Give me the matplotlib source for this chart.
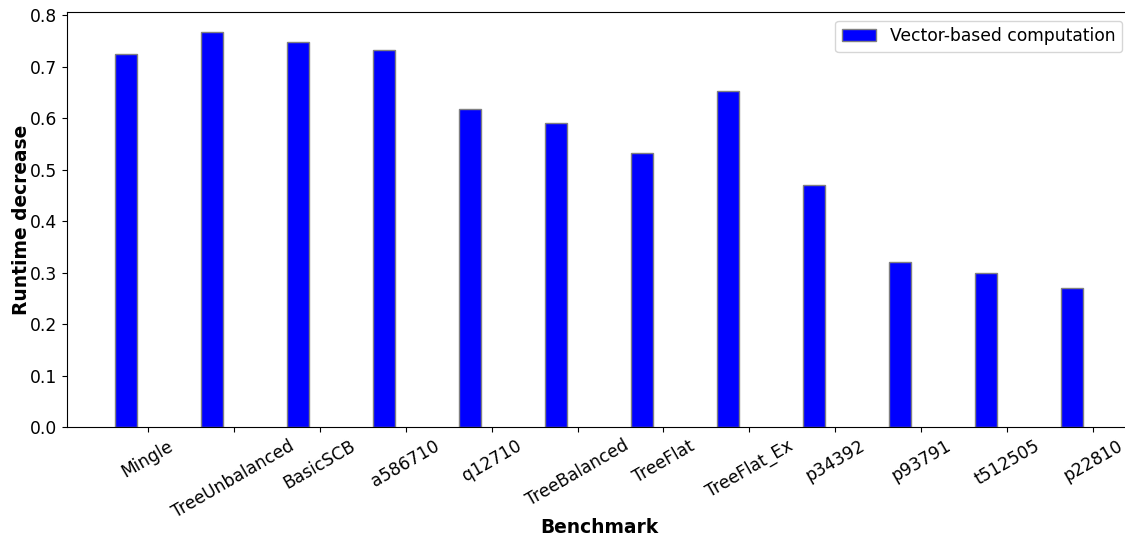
import matplotlib
matplotlib.use("Agg")
import matplotlib.pyplot as plt
import numpy as np

benchmarks = ["Mingle", "TreeUnbalanced", "BasicSCB", "a586710", "q12710",
              "TreeBalanced", "TreeFlat", "TreeFlat_Ex", "p34392", "p93791",
              "t512505", "p22810"]
runtime_decrease = [0.725, 0.768, 0.748, 0.732, 0.617, 0.590, 0.532, 0.652,
                    0.470, 0.320, 0.300, 0.270]
series_label = "Vector-based computation"

bar_width = 0.25
fs_tick = 12.3
fs_label = 13.4

fig = plt.figure(figsize=(11.25, 5.39), dpi=100)
ax = fig.add_axes([0.0596, 0.2078, 0.9457, 0.7699])

r = np.arange(len(benchmarks))
ax.bar(r, runtime_decrease, width=bar_width, color="blue",
       edgecolor="grey", linewidth=1, label=series_label)

ax.set_xticks(r + bar_width)
ax.set_xticklabels(benchmarks, rotation=30, fontsize=fs_tick)
ax.tick_params(axis="y", labelsize=fs_tick)
ax.set_xlabel("Benchmark", fontsize=fs_label, fontweight="bold", labelpad=-2)
ax.set_ylabel("Runtime decrease", fontsize=fs_label, fontweight="bold", labelpad=-0.5)
ax.legend(loc="upper right", fontsize=fs_tick)

fig.savefig("out.png", dpi=100)
